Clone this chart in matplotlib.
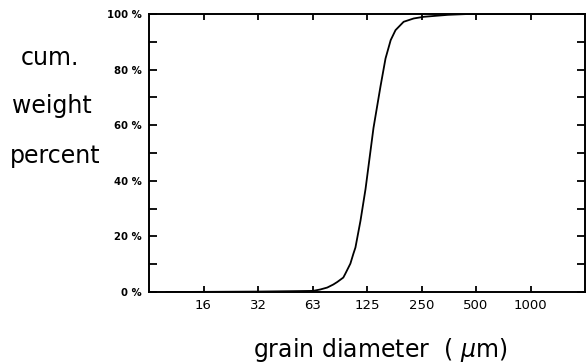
#!/usr/bin/env python3
"""
Cumulative grain size distribution (weight percent vs grain diameter).
"""

import matplotlib
matplotlib.use("Agg")
import matplotlib.pyplot as plt
from matplotlib.ticker import FixedLocator, NullFormatter

# grain diameter (um) and cumulative weight percent
diameter = [10, 16, 32, 50, 64.5, 70.6, 77.2, 83.4, 87.7, 94.7, 97.2, 103.6,
            107.7, 110.5, 117.8, 125.6, 139, 152, 162, 173, 184, 204, 232,
            264, 358, 463, 1000, 2048]
cum_percent = [0.0, 0.05, 0.15, 0.3, 0.4, 0.9, 1.6, 2.7, 3.6, 5.2, 6.6, 10.2,
               13.8, 16.0, 25.6, 37.0, 59.0, 74.0, 84.0, 90.6, 94.2, 97.2, 98.4,
               99.0, 99.7, 100.0, 100.0, 100.0]

# tick positions on the log2 (phi) scale and their printed labels
x_tick_pos = [16, 32, 64, 128, 256, 512, 1024]
x_tick_labels = ["16", "32", "63", "125", "250", "500", "1000"]
y_ticks = [0, 20, 40, 60, 80, 100]
y_tick_labels = ["0 %", "20 %", "40 %", "60 %", "80 %", "100 %"]

font = "DejaVu Sans"
plt.rcParams["mathtext.fontset"] = "custom"
plt.rcParams["mathtext.it"] = "DejaVu Sans:italic"
plt.rcParams["mathtext.rm"] = "DejaVu Sans"

fig = plt.figure(figsize=(5.86, 3.64), dpi=100)
ax = fig.add_axes([149 / 586, 1 - 292 / 364, 436 / 586, 278 / 364])

ax.plot(diameter, cum_percent, color="black", linewidth=1.3)

ax.set_xscale("log", base=2)
ax.set_xlim(8, 2048)
ax.set_ylim(0, 100)

ax.xaxis.set_major_locator(FixedLocator(x_tick_pos))
ax.set_xticklabels(x_tick_labels, fontsize=9.5, family=font)
ax.xaxis.set_minor_locator(FixedLocator([]))
ax.xaxis.set_minor_formatter(NullFormatter())

ax.set_yticks(y_ticks)
ax.set_yticklabels(y_tick_labels, fontsize=7.3, fontweight="bold", family=font)
ax.yaxis.set_minor_locator(FixedLocator([10, 30, 50, 70, 90]))

ax.tick_params(axis="both", which="both", direction="in", width=1.3,
               top=True, right=True, colors="black")
ax.tick_params(axis="x", which="major", length=4, pad=5)
ax.tick_params(axis="y", which="major", length=6, pad=5)
ax.tick_params(axis="y", which="minor", length=6)

for s in ax.spines.values():
    s.set_linewidth(1.4)

# axis titles placed like the original figure
title_kw = dict(fontsize=17, family=font, color="black", va="baseline")
fig.text(21 / 586, 1 - 65 / 364, "cum.", ha="left", **title_kw)
fig.text(12 / 586, 1 - 113 / 364, "weight", ha="left", **title_kw)
fig.text(10 / 586, 1 - 163 / 364, "percent", ha="left", **title_kw)
fig.text(380 / 586, 1 - 357 / 364, "grain diameter  ( $\\mu$m)", ha="center",
         **title_kw)

fig.savefig("out.png", dpi=100)
